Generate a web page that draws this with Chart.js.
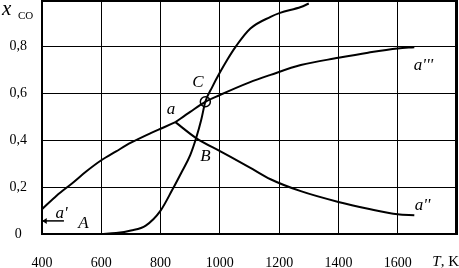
<!DOCTYPE html>
<html lang="ru">
<head>
    <meta charset="UTF-8">
    <title>x_CO от T</title>
    <script src="https://cdn.jsdelivr.net/npm/chart.js"></script>
    <style>
        html, body { margin: 0; padding: 0; background: #fff; overflow: hidden; }
        #wrap { position: absolute; left: 0; top: 0; width: 459px; height: 268px; }
    </style>
</head>
<body>
    <div id="wrap"><canvas id="chart"></canvas></div>

    <script>
        // кривая a' - a
        const tempLeft = [400, 450, 500, 550, 600, 650, 700, 765, 810, 850];
        const xcoLeft = [0.106, 0.165, 0.215, 0.268, 0.315, 0.353, 0.39, 0.43, 0.455, 0.478];

        // кривая a - C - a'''
        const tempUpper = [850, 900, 951, 1000, 1100, 1171, 1273, 1400, 1500, 1600, 1656];
        const xcoUpper = [0.478, 0.522, 0.565, 0.594, 0.648, 0.68, 0.722, 0.753, 0.775, 0.793, 0.798];

        // кривая a - B - a''
        const tempLower = [850, 920, 1002, 1100, 1171, 1273, 1400, 1500, 1600, 1656];
        const xcoLower = [0.478, 0.41, 0.353, 0.285, 0.234, 0.183, 0.137, 0.108, 0.084, 0.08];

        // кривая A - B - C
        const tempSteep = [600, 650, 700, 750, 800, 840, 870, 900, 920, 937, 951, 975, 1000, 1025, 1053, 1103, 1171, 1203, 1273, 1300];
        const xcoSteep = [0, 0.004, 0.015, 0.036, 0.1, 0.19, 0.262, 0.337, 0.41, 0.487, 0.565, 0.63, 0.69, 0.745, 0.8, 0.878, 0.928, 0.945, 0.97, 0.985];

        // точка C
        const pointC = [{ x: 951, y: 0.565 }];

        const xTicks = [400, 600, 800, 1000, 1200, 1400, 1600];
        const yTicks = [0, 0.2, 0.4, 0.6, 0.8];

        function toPoints(xs, ys) {
            return xs.map((t, i) => ({ x: t, y: ys[i] }));
        }

        function curve(xs, ys) {
            return {
                data: toPoints(xs, ys),
                borderColor: '#000',
                borderWidth: 2,
                pointRadius: 0,
                pointHoverRadius: 0,
                fill: false,
                cubicInterpolationMode: 'monotone'
            };
        }

        const serif = '"Liberation Serif", "Times New Roman", serif';

        // подписи на графике и рамка
        const labelsPlugin = {
            id: 'labels',
            afterDraw(chart) {
                const ctx = chart.ctx;
                const sx = chart.scales.x;
                const sy = chart.scales.y;
                const area = chart.chartArea;
                const px = v => sx.getPixelForValue(v);
                const py = v => sy.getPixelForValue(v);

                ctx.save();
                ctx.fillStyle = '#000';
                ctx.strokeStyle = '#000';

                // верхняя и правая рамка
                ctx.lineWidth = 2;
                ctx.strokeRect(area.left, area.top + 1, area.width - 1, area.height - 1);

                ctx.textAlign = 'center';
                ctx.textBaseline = 'middle';
                ctx.font = 'italic 17px ' + serif;
                ctx.fillText('a', px(835), py(0.534));
                ctx.fillText('C', px(926), py(0.649));
                ctx.fillText('B', px(951), py(0.332));
                ctx.fillText('A', px(540), py(0.045));
                ctx.fillText("a'''", px(1687), py(0.722));
                ctx.fillText("a''", px(1684), py(0.121));
                ctx.fillText("a'", px(466), py(0.088));

                // стрелка у a'
                const ay = py(0.056);
                ctx.lineWidth = 1.5;
                ctx.beginPath();
                ctx.moveTo(px(474), ay);
                ctx.lineTo(px(403), ay);
                ctx.stroke();
                ctx.beginPath();
                ctx.moveTo(px(401), ay);
                ctx.lineTo(px(416), ay - 3);
                ctx.lineTo(px(416), ay + 3);
                ctx.closePath();
                ctx.fill();

                // ось y: x_CO
                ctx.textAlign = 'left';
                ctx.textBaseline = 'alphabetic';
                ctx.font = 'italic 21px ' + serif;
                ctx.fillText('x', area.left - 40, area.top + 15);
                ctx.font = '11px ' + serif;
                ctx.fillText('CO', area.left - 24, area.top + 19);

                // ось x: T, K
                ctx.textAlign = 'right';
                ctx.font = '15px ' + serif;
                const tail = ', K';
                const tailW = ctx.measureText(tail).width;
                ctx.fillText(tail, 459, 266);
                ctx.font = 'italic 15px ' + serif;
                ctx.fillText('T', 459 - tailW, 266);

                ctx.restore();
            }
        };

        new Chart(document.getElementById('chart'), {
            type: 'line',
            data: {
                datasets: [
                    curve(tempLeft, xcoLeft),
                    curve(tempUpper, xcoUpper),
                    curve(tempLower, xcoLower),
                    curve(tempSteep, xcoSteep),
                    {
                        data: pointC,
                        showLine: false,
                        pointRadius: 5,
                        pointHoverRadius: 5,
                        pointBackgroundColor: '#fff',
                        pointBorderColor: '#000',
                        pointBorderWidth: 1.5
                    }
                ]
            },
            options: {
                responsive: true,
                maintainAspectRatio: false,
                animation: false,
                events: [],
                layout: { autoPadding: false, padding: { top: 0, right: 2, left: 0, bottom: 0 } },
                plugins: {
                    legend: { display: false },
                    tooltip: { enabled: false }
                },
                scales: {
                    x: {
                        type: 'linear',
                        min: 400,
                        max: 1800,
                        afterBuildTicks: axis => {
                            axis.ticks = xTicks.concat([1800]).map(v => ({ value: v }));
                        },
                        afterFit: axis => {
                            axis.height = 34;
                            axis.paddingLeft = 0;
                            axis.paddingRight = 0;
                        },
                        grid: { color: '#000', lineWidth: 1, drawTicks: false },
                        border: { color: '#000', width: 2 },
                        ticks: {
                            color: '#000',
                            padding: 21,
                            maxRotation: 0,
                            autoSkip: false,
                            font: { family: serif, size: 14 },
                            callback: v => xTicks.includes(v) ? String(v) : ''
                        }
                    },
                    y: {
                        min: 0,
                        max: 1,
                        afterBuildTicks: axis => {
                            axis.ticks = yTicks.concat([1]).map(v => ({ value: v }));
                        },
                        afterFit: axis => {
                            axis.width = 42;
                            axis.paddingTop = 0;
                            axis.paddingBottom = 0;
                        },
                        grid: { color: '#000', lineWidth: 1, drawTicks: false },
                        border: { color: '#000', width: 2 },
                        ticks: {
                            color: '#000',
                            padding: 15,
                            crossAlign: 'center',
                            autoSkip: false,
                            font: { family: serif, size: 14 },
                            callback: v => {
                                if (v >= 1) return '';
                                return v === 0 ? '0' : v.toFixed(1).replace('.', ',');
                            }
                        }
                    }
                }
            },
            plugins: [labelsPlugin]
        });
    </script>
</body>
</html>
